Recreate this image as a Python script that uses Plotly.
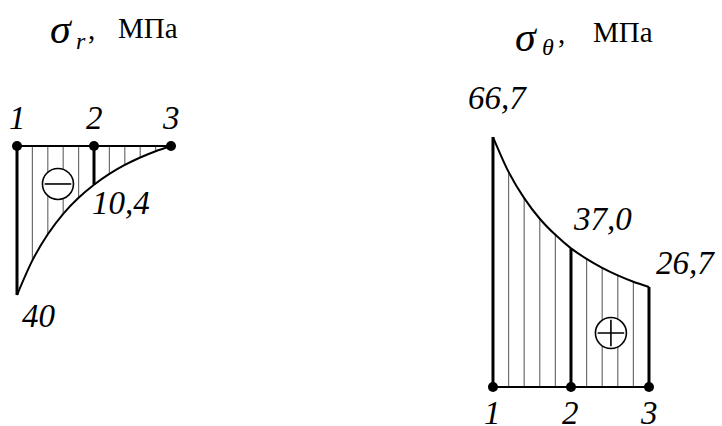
import plotly.graph_objects as go

# Radial stations (inner radius taken as 1) and stresses in MPa
r = [1.0, 1.1, 1.2, 1.3, 1.4, 1.5, 1.6, 1.7, 1.8, 1.9, 2.0]
sigma_r = [-40.0, -30.7, -23.7, -18.2, -13.9, -10.4, -7.5, -5.1, -3.1, -1.4, 0.0]
sigma_t = [66.7, 57.4, 50.4, 44.9, 40.6, 37.0, 34.2, 31.8, 29.8, 28.1, 26.7]

# Section points 1, 2, 3
node_idx = [0, 5, 10]
node_names = ["1", "2", "3"]
sr_node_labels = ["40", "10,4", ""]
st_node_labels = ["66,7", "37,0", "26,7"]

FONT = "Liberation Serif"
INK = "black"
HATCH = "#6e6e6e"


def hatch_xy(xs, ys, skip):
    hx, hy = [], []
    for i, (x, y) in enumerate(zip(xs, ys)):
        if i in skip:
            continue
        hx += [x, x, None]
        hy += [0, y, None]
    return hx, hy


def node_xy(xs, ys, idx):
    vx, vy = [], []
    for i in idx:
        vx += [xs[i], xs[i], None]
        vy += [0, ys[i], None]
    return vx, vy


fig = go.Figure()

for vals, xa, ya in [(sigma_r, "x", "y"), (sigma_t, "x2", "y2")]:
    hx, hy = hatch_xy(r, vals, node_idx)
    fig.add_trace(go.Scatter(x=hx, y=hy, xaxis=xa, yaxis=ya, mode="lines",
                             line=dict(color=HATCH, width=1.2), hoverinfo="skip"))
    fig.add_trace(go.Scatter(x=[r[0], r[-1]], y=[0, 0], xaxis=xa, yaxis=ya, mode="lines",
                             line=dict(color=INK, width=2), hoverinfo="skip"))
    vx, vy = node_xy(r, vals, node_idx)
    fig.add_trace(go.Scatter(x=vx, y=vy, xaxis=xa, yaxis=ya, mode="lines",
                             line=dict(color=INK, width=3), hoverinfo="skip"))
    fig.add_trace(go.Scatter(x=r, y=vals, xaxis=xa, yaxis=ya, mode="lines",
                             line=dict(color=INK, width=2, shape="spline", smoothing=0.8),
                             hoverinfo="skip"))
    fig.add_trace(go.Scatter(x=[r[i] for i in node_idx], y=[0] * 3, xaxis=xa, yaxis=ya,
                             mode="markers", marker=dict(color=INK, size=10), hoverinfo="skip"))

# Sign circles
for (cx, cy, sym), xa, ya in [((1.266, -10.2, "line-ew-open"), "x", "y"),
                              ((1.756, 14.4, "cross-thin-open"), "x2", "y2")]:
    fig.add_trace(go.Scatter(x=[cx], y=[cy], xaxis=xa, yaxis=ya, mode="markers",
                             marker=dict(symbol="circle", size=31, color="white",
                                         line=dict(color=INK, width=1.6)),
                             hoverinfo="skip"))
    fig.add_trace(go.Scatter(x=[cx], y=[cy], xaxis=xa, yaxis=ya, mode="markers",
                             marker=dict(symbol=sym, size=19, color=INK,
                                         line=dict(color=INK, width=1.6)),
                             hoverinfo="skip"))

ann = []
num_font = dict(family=FONT, size=33, color=INK)
unit_font = dict(family=FONT, size=29, color=INK)
sigma_font = dict(family=FONT, size=42, color=INK)
sub_font = dict(family=FONT, size=24, color=INK)


def label(text, x, y, xa, ya, font=num_font, xanchor="center"):
    ann.append(dict(text=text, x=x, y=y, xref=xa, yref=ya, showarrow=False,
                    font=font, xanchor=xanchor, yanchor="middle"))


# Titles: stress symbol, its subscript, comma and unit
label("<i>σ</i>", 1.292, 31.4, "x", "y", sigma_font)
label("<i>r</i>", 1.416, 28.2, "x", "y", sub_font)
label(",", 1.481, 31.3, "x", "y", unit_font)
label("МПа", 1.851, 31.6, "x", "y", unit_font)

label("<i>σ</i>", 1.218, 93.4, "x2", "y2", sigma_font)
label("<i>θ</i>", 1.353, 90.8, "x2", "y2", sub_font)
label(",", 1.442, 94.5, "x2", "y2", unit_font)
label("МПа", 1.833, 94.8, "x2", "y2", unit_font)

# Section numbers
for i, name in zip(node_idx, node_names):
    label(f"<i>{name}</i>", r[i], 7.6, "x", "y")
    label(f"<i>{name}</i>", r[i], -7.0, "x2", "y2")

# Value labels
label(f"<i>{sr_node_labels[0]}</i>", 1.143, -45.6, "x", "y")
label(f"<i>{sr_node_labels[1]}</i>", 1.675, -15.4, "x", "y")
label(f"<i>{st_node_labels[0]}</i>", 1.032, 77.0, "x2", "y2")
label(f"<i>{st_node_labels[1]}</i>", 1.705, 44.8, "x2", "y2")
label(f"<i>{st_node_labels[2]}</i>", 2.237, 33.1, "x2", "y2")

hidden = dict(visible=False, showgrid=False, zeroline=False, domain=[0, 1])
fig.update_layout(
    width=722, height=426,
    margin=dict(l=0, r=0, t=0, b=0),
    paper_bgcolor="white", plot_bgcolor="white",
    showlegend=False,
    annotations=ann,
    xaxis=dict(hidden, range=[0.8896, 5.578]),
    yaxis=dict(hidden, range=[-75.17, 39.19]),
    xaxis2=dict(hidden, range=[-2.160, 2.468], anchor="y2", overlaying="x"),
    yaxis2=dict(hidden, range=[-10.40, 103.26], anchor="x2", overlaying="y"),
)

fig.write_html("out.html")
